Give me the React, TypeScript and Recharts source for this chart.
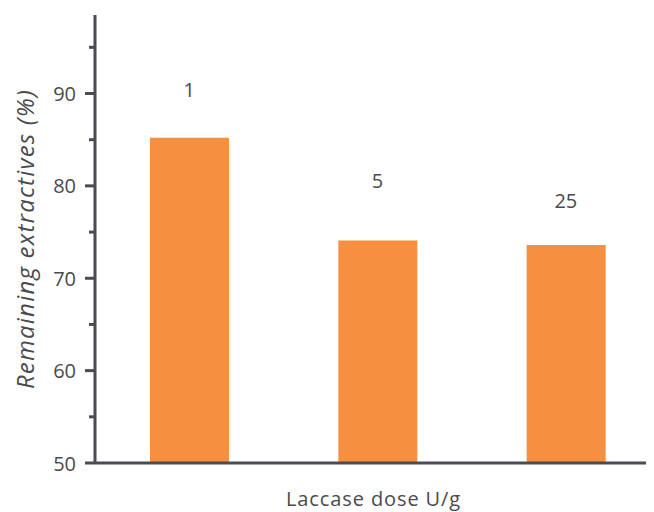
import React from 'react';
import { ComposedChart, Bar, Scatter, XAxis, YAxis } from 'recharts';

const doses = ['1', '5', '25'];
const remaining = [85.2, 74.1, 73.6];
// where the dose labels sit, in axis units
const labelY = [90.4, 80.6, 78.4];
const yTicks = [50, 55, 60, 65, 70, 75, 80, 85, 90, 95];

const AXIS_COLOR = '#4b4b50';
const TEXT_COLOR = '#4a4a4f';
const BAR_COLOR = '#f78f40';
const FONT = '"Open Sans", "Noto Sans", sans-serif';

const data = doses.map((dose, i) => ({
  dose,
  remaining: remaining[i],
  labelY: labelY[i],
}));

const YTick = (props: any) => {
  const { x, y, payload } = props;
  const major = payload.value % 10 === 0;
  return (
    <g>
      <line x1={x - (major ? 10 : 6)} x2={x} y1={y} y2={y} stroke={AXIS_COLOR} strokeWidth={3} />
      {major && (
        <text
          x={x - 19}
          y={y}
          textAnchor="end"
          dominantBaseline="central"
          fontSize={20}
          fontFamily={FONT}
          fill={TEXT_COLOR}
        >
          {payload.value}
        </text>
      )}
    </g>
  );
};

const DoseLabel = (props: any) => {
  const { cx, cy, payload } = props;
  return (
    <text
      x={cx}
      y={cy}
      textAnchor="middle"
      dominantBaseline="central"
      fontSize={20}
      fontFamily={FONT}
      fill={TEXT_COLOR}
    >
      {payload.dose}
    </text>
  );
};

export default function App() {
  return (
    <div style={{ width: 646, overflow: 'hidden' }}>
      <ComposedChart
        width={652}
        height={503}
        data={data}
        margin={{ top: 7, right: 0, bottom: 0, left: 0 }}
      >
        <XAxis
          dataKey="dose"
          tick={false}
          tickLine={false}
          height={48}
          axisLine={{ stroke: AXIS_COLOR, strokeWidth: 3 }}
          label={{
            value: 'Laccase dose U/g',
            position: 'insideBottom',
            offset: 5,
            dx: -4,
            fontSize: 20,
            fontFamily: FONT,
            fill: TEXT_COLOR,
            style: { letterSpacing: '0.9px' },
          }}
        />
        <YAxis
          type="number"
          domain={[50, 98.5]}
          ticks={yTicks}
          interval={0}
          width={87}
          tickSize={0}
          tickMargin={0}
          tickLine={false}
          tick={<YTick />}
          axisLine={{ stroke: AXIS_COLOR, strokeWidth: 3 }}
          label={{
            value: 'Remaining extractives (%)',
            angle: -90,
            position: 'insideLeft',
            offset: 17,
            fontSize: 24,
            fontStyle: 'italic',
            fontFamily: FONT,
            fill: TEXT_COLOR,
            style: { textAnchor: 'middle', letterSpacing: '1.2px' },
          }}
        />
        <Bar dataKey="remaining" fill={BAR_COLOR} barSize={79} isAnimationActive={false} />
        <Scatter dataKey="labelY" shape={<DoseLabel />} isAnimationActive={false} />
      </ComposedChart>
    </div>
  );
}
